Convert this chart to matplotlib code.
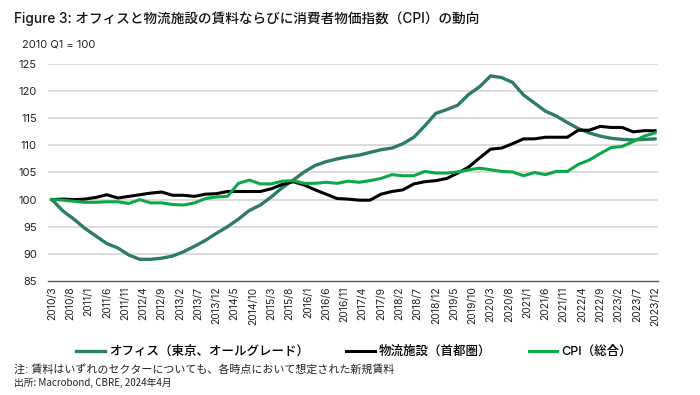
import numpy as np
import matplotlib
matplotlib.use('Agg')
import matplotlib.pyplot as plt

plt.rcParams['font.family'] = ['Inter', 'Noto Sans CJK JP', 'DejaVu Sans']

# 四半期データ (2010Q1 = 100), 2010/3 ～ 2023/12
office = [100.0, 97.9, 96.4, 94.7, 93.3, 91.9, 91.1, 89.8, 89.0, 89.0,
          89.2, 89.6, 90.4, 91.4, 92.5, 93.8, 95.0, 96.4, 98.0, 99.0,
          100.5, 102.2, 103.6, 105.1, 106.3, 107.0, 107.5, 107.9, 108.2, 108.7,
          109.2, 109.5, 110.3, 111.5, 113.6, 115.9, 116.6, 117.4, 119.4, 120.8,
          122.8, 122.5, 121.6, 119.3, 117.8, 116.3, 115.4, 114.2, 113.1, 112.3,
          111.7, 111.3, 111.1, 111.0, 111.1, 111.2]
logistics = [100.0, 100.1, 100.0, 100.1, 100.4, 100.9, 100.3, 100.6, 100.9, 101.2,
             101.4, 100.8, 100.8, 100.6, 101.0, 101.1, 101.5, 101.5, 101.5, 101.5,
             102.0, 102.8, 103.3, 102.7, 101.8, 101.0, 100.2, 100.1, 99.9, 99.9,
             101.0, 101.5, 101.8, 102.9, 103.3, 103.5, 103.9, 104.9, 106.0, 107.7,
             109.3, 109.5, 110.3, 111.2, 111.2, 111.5, 111.5, 111.5, 112.8, 112.8,
             113.5, 113.3, 113.3, 112.5, 112.7, 112.7]
cpi = [100.0, 99.9, 99.7, 99.5, 99.5, 99.6, 99.6, 99.3, 100.0, 99.4,
       99.4, 99.1, 99.0, 99.4, 100.2, 100.5, 100.6, 103.0, 103.6, 102.9,
       102.9, 103.4, 103.5, 103.0, 103.0, 103.2, 103.0, 103.4, 103.2, 103.5,
       103.9, 104.6, 104.4, 104.4, 105.2, 104.9, 104.9, 105.1, 105.5, 105.8,
       105.5, 105.2, 105.1, 104.4, 105.0, 104.6, 105.2, 105.2, 106.5, 107.3,
       108.5, 109.6, 109.8, 110.7, 111.7, 112.3]

# 月番号 (2010/3 = 0)
months = np.arange(len(office)) * 3
tick_months = np.arange(0, 166, 5)
tick_labels = [f'{2010 + (m + 2) // 12}/{(m + 2) % 12 + 1}' for m in tick_months]

fig = plt.figure(figsize=(7, 3.95), dpi=100)
ax = fig.add_axes([48 / 700, 1 - 281 / 395, 610 / 700, 217 / 395])

for y in range(90, 126, 5):
    ax.axhline(y, color='#d9d9d9', lw=1.3, zorder=0)

ax.plot(months, office, color='#2e7d5e', lw=2.4, label='オフィス（東京、オールグレード）')
ax.plot(months, logistics, color='#000000', lw=2.2, label='物流施設（首都圏）')
ax.plot(months, cpi, color='#0ba84a', lw=2.2, label='CPI（総合）')

ax.set_xlim(-1.09, 165.8)
ax.set_ylim(85, 125)
ax.set_yticks(range(85, 126, 5))
ax.set_xticks(tick_months)
ax.set_xticklabels(tick_labels, rotation=90, fontsize=7.5, color='#222222')
ax.tick_params(axis='y', length=0, labelsize=8, colors='#222222', pad=8)
ax.tick_params(axis='x', length=0, pad=4)
for s in ['top', 'right', 'left']:
    ax.spines[s].set_visible(False)
ax.spines['bottom'].set_color('#595959')
ax.spines['bottom'].set_linewidth(1.0)

fig.text(14 / 700, 1 - 19 / 395, 'Figure 3: オフィスと物流施設の賃料ならびに消費者物価指数（CPI）の動向',
         fontsize=9.8, fontweight='medium', va='center', ha='left', color='#111111')
fig.text(22 / 700, 1 - 45 / 395, '2010 Q1 = 100', fontsize=8, va='center', ha='left', color='#222222')

leg = fig.legend(loc='center', bbox_to_anchor=(354 / 700, 1 - 352 / 395), ncol=3, frameon=False,
                 prop={'size': 9, 'weight': 'medium'}, handlelength=2.3, handletextpad=0.3,
                 columnspacing=3.0)

fig.text(14 / 700, 1 - 369 / 395, '注: 賃料はいずれのセクターについても、各時点において想定された新規賃料',
         fontsize=7.9, va='center', ha='left', color='#222222')
fig.text(14 / 700, 1 - 383 / 395, '出所: Macrobond, CBRE, 2024年4月',
         fontsize=7, va='center', ha='left', color='#222222',
         family=['Liberation Sans Narrow', 'Noto Sans CJK JP'])

fig.savefig('out.png', dpi=100, facecolor='white')
